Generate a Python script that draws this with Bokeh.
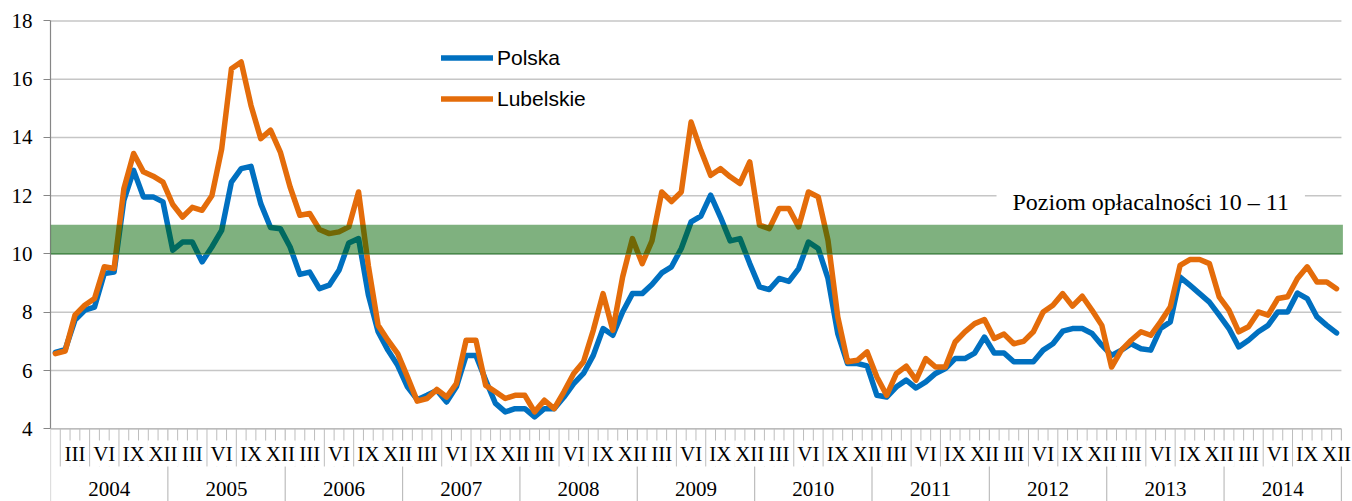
from bokeh.plotting import figure
from bokeh.models import (Range1d, FixedTicker, Legend, LegendItem, Label,
                          BoxAnnotation)
from bokeh.core.properties import value
from bokeh.embed import file_html
from bokeh.resources import INLINE

# ---------------- data ----------------
years = ["2004", "2005", "2006", "2007", "2008", "2009", "2010",
         "2011", "2012", "2013", "2014"]
quarter_labels = ["III", "VI", "IX", "XII"]
quarter_months = [3, 6, 9, 12]

polska = [
    6.62, 6.72, 7.73, 8.07, 8.18, 9.33, 9.38, 11.84, 12.87, 11.96, 11.96, 11.79,
    10.13, 10.41, 10.41, 9.73, 10.24, 10.81, 12.47, 12.93, 13.01, 11.73, 10.91, 10.87,
    10.24, 9.30, 9.38, 8.81, 8.93, 9.44, 10.38, 10.53, 8.60, 7.33, 6.70, 6.18,
    5.44, 5.00, 5.15, 5.32, 4.92, 5.44, 6.52, 6.52, 5.67, 4.87, 4.58, 4.69,
    4.69, 4.41, 4.69, 4.69, 5.09, 5.55, 5.90, 6.52, 7.44, 7.21, 8.01, 8.64,
    8.64, 8.95, 9.35, 9.56, 10.19, 11.10, 11.30, 12.02, 11.27, 10.45, 10.53, 9.67,
    8.87, 8.78, 9.16, 9.06, 9.50, 10.41, 10.19, 9.16, 7.27, 6.24, 6.24, 6.16,
    5.15, 5.09, 5.44, 5.67, 5.40, 5.61, 5.90, 6.07, 6.41, 6.41, 6.60, 7.15,
    6.60, 6.60, 6.30, 6.30, 6.30, 6.70, 6.92, 7.35, 7.44, 7.44, 7.27, 6.87,
    6.52, 6.70, 6.92, 6.75, 6.70, 7.44, 7.67, 9.21, 8.93, 8.64, 8.35, 7.90,
    7.44, 6.81, 7.04, 7.33, 7.55, 8.01, 8.01, 8.66, 8.47, 7.84, 7.55, 7.29,
]
lubelskie = [
    6.58, 6.67, 7.90, 8.24, 8.47, 9.56, 9.50, 12.24, 13.45, 12.82, 12.67, 12.47,
    11.70, 11.27, 11.60, 11.50, 12.00, 13.60, 16.36, 16.59, 15.10, 13.96, 14.25, 13.50,
    12.30, 11.33, 11.39, 10.84, 10.70, 10.76, 10.93, 12.13, 9.60, 7.55, 7.04, 6.58,
    5.78, 4.95, 5.04, 5.35, 5.09, 5.55, 7.04, 7.04, 5.49, 5.27, 5.04, 5.15,
    5.15, 4.58, 4.98, 4.69, 5.27, 5.90, 6.30, 7.38, 8.64, 7.38, 9.21, 10.53,
    9.67, 10.45, 12.13, 11.80, 12.13, 14.53, 13.56, 12.70, 12.93, 12.65, 12.42, 13.16,
    10.99, 10.87, 11.56, 11.56, 10.93, 12.13, 11.96, 10.47, 7.84, 6.30, 6.35, 6.64,
    5.78, 5.15, 5.90, 6.15, 5.67, 6.41, 6.12, 6.12, 6.98, 7.33, 7.61, 7.75,
    7.10, 7.25, 6.92, 7.00, 7.33, 8.01, 8.24, 8.64, 8.21, 8.55, 8.07, 7.55,
    6.12, 6.70, 7.04, 7.33, 7.21, 7.67, 8.18, 9.61, 9.81, 9.81, 9.67, 8.53,
    8.07, 7.33, 7.50, 8.01, 7.90, 8.47, 8.53, 9.16, 9.56, 9.04, 9.04, 8.81,
]
band_low, band_high = 10, 11
band_text = "Poziom opłacalności 10 – 11"
y_ticks = [4, 6, 8, 10, 12, 14, 16, 18]

# ---------------- geometry ----------------
n = len(polska)
x = [i + 0.5 for i in range(n)]
Y_TOP, Y_BOT = 18.29, 1.504
MONTH_LINE_BOT = 2.706
ROMAN_Y = 3.15
YEAR_Y = 1.93

SERIF = "Liberation Serif"
SANS = "Liberation Sans"
BLUE = "#0070C0"
ORANGE = "#E46C0A"

p = figure(width=1352, height=501, output_backend="svg", toolbar_location=None,
           x_range=Range1d(0, 133.03), y_range=Range1d(Y_BOT, Y_TOP),
           x_axis_location=None, min_border_left=50, min_border_right=1,
           min_border_top=12, min_border_bottom=0)
p.outline_line_color = None
p.xgrid.visible = False
p.ygrid.visible = False

# gridlines (from the y ticks)
gy = [t for t in y_ticks if t > y_ticks[0]]
p.segment(x0=[0] * len(gy), x1=[n] * len(gy), y0=gy, y1=gy,
          line_color="#C6C6C6", line_width=1.5)

# category axis (manual, two-level)
p.segment(x0=[0], x1=[n], y0=[y_ticks[0]], y1=[y_ticks[0]],
          line_color="#A6A6A6", line_width=1.2)
mk = [k for k in range(n + 1) if k % 12 != 0]
p.segment(x0=mk, x1=mk, y0=[y_ticks[0]] * len(mk), y1=[MONTH_LINE_BOT] * len(mk),
          line_color="#BDBDBD", line_width=1)
yk = list(range(0, n + 1, 12))
p.segment(x0=yk, x1=yk, y0=[y_ticks[0]] * len(yk), y1=[Y_BOT] * len(yk),
          line_color="#BDBDBD", line_width=1.2)

rx, rt = [], []
for j in range(len(years)):
    for lab, m in zip(quarter_labels, quarter_months):
        rx.append(12 * j + m - 0.5)
        rt.append(lab)
p.text(x=rx, y=[ROMAN_Y] * len(rx), text=rt, text_align="center",
       text_baseline="middle", text_font=value(SERIF), text_font_size="21px",
       text_color="black", background_fill_color="white", padding=1)
p.text(x=[12 * j + 6 for j in range(len(years))], y=[YEAR_Y] * len(years),
       text=years, text_align="center", text_baseline="middle",
       text_font=value(SERIF), text_font_size="21px", text_color="black")

# series
r_pl = p.line(x, polska, line_color=BLUE, line_width=5.5,
              line_join="round", line_cap="round")
r_lu = p.line(x, lubelskie, line_color=ORANGE, line_width=5.5,
              line_join="round", line_cap="round")

# y axis
ax = p.yaxis[0]
ax.ticker = FixedTicker(ticks=y_ticks)
ax.bounds = (y_ticks[0], y_ticks[-1])
ax.axis_line_color = "#868686"
ax.axis_line_width = 1.2
ax.major_tick_line_color = "#868686"
ax.major_tick_out = 7
ax.major_tick_in = 0
ax.minor_tick_line_color = None
ax.major_label_text_font = SERIF
ax.major_label_text_font_size = "21px"
ax.major_label_text_color = "black"
ax.major_label_standoff = 11

# annotation text (white box breaks the gridline)
p.add_layout(Label(x=112.5, y=11.77, text=band_text, text_align="center",
                   text_baseline="middle", text_font=SERIF,
                   text_font_size="24px", text_color="black",
                   background_fill_color="white", padding=(16, 4)))

# band (drawn above the lines, semi-transparent)
p.add_layout(BoxAnnotation(bottom=band_low, top=band_high, left=0, right=n + 0.15,
                           fill_color="#006400", fill_alpha=0.5,
                           line_color=None))
p.segment(x0=[0], x1=[n + 0.15], y0=[band_low], y1=[band_low],
          line_color="#4E8E55", line_width=1.2)

legend = Legend(items=[LegendItem(label="Polska", renderers=[r_pl]),
                       LegendItem(label="Lubelskie", renderers=[r_lu])],
                location=(391, 385), glyph_width=52, glyph_height=35,
                label_height=35, spacing=6, padding=0, margin=0,
                label_standoff=4, background_fill_alpha=0,
                border_line_color=None, label_text_font=SANS,
                label_text_font_size="21px", label_text_color="black")
p.add_layout(legend)

open("out.html", "w").write(file_html(p, INLINE))
